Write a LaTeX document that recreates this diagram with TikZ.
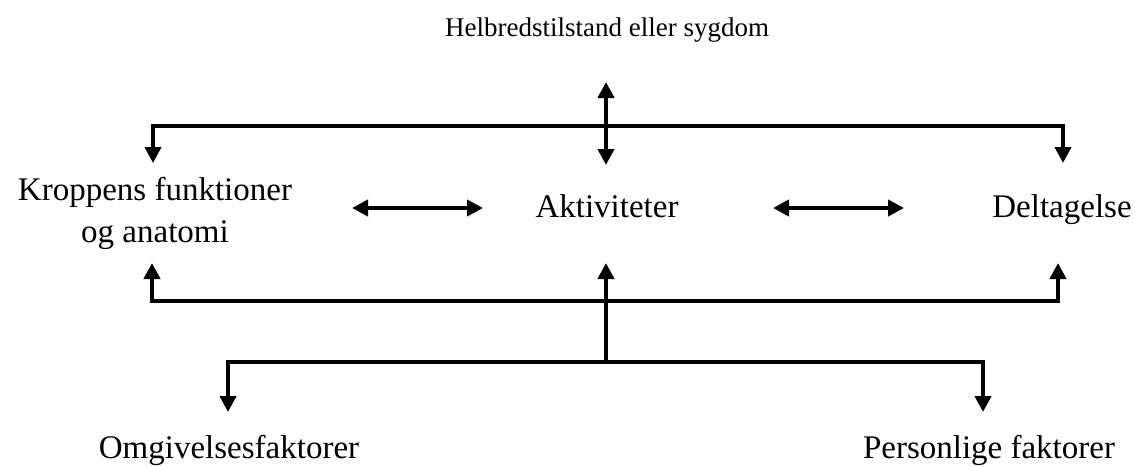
\documentclass[tikz,border=0pt]{standalone}
\usepackage{fontspec}
\setmainfont{Liberation Serif}
\usetikzlibrary{arrows.meta}

\begin{document}
\begin{tikzpicture}
      [ x = 1pt
      , y = -1pt
      , term/.style =
        { inner sep=0pt, font=\fontsize{33}{42}\selectfont, anchor=base, align=center }
      , small/.style =
        { inner sep=0pt, font=\fontsize{27}{30}\selectfont, anchor=base }
      , edge/.style =
        { line width=4pt, >={Triangle[width=16pt,length=16pt]} }
      ]
      \useasboundingbox (0,0) rectangle (1135,466);
      \node [small] (helbred) at (607, 36) {Helbredstilstand eller sygdom};
      \node [term] (krop) at (155, 242) {Kroppens funktioner\\og anatomi};
      \node [term] (aktiv) at (607, 217) {Aktiviteter};
      \node [term] (deltag) at (1062, 217) {Deltagelse};
      \node [term] (omgiv) at (229, 458) {Omgivelsesfaktorer};
      \node [term] (person) at (989, 458) {Personlige faktorer};
      \coordinate (hTop) at (606, 82);
      \coordinate (hBot) at (606, 165);
      \coordinate (kropIn) at (153, 163);
      \coordinate (kropTop) at (153, 126);
      \coordinate (deltagTop) at (1063, 126);
      \coordinate (deltagIn) at (1063, 163);
      \coordinate (kropOut) at (152, 263);
      \coordinate (kropLow) at (152, 301);
      \coordinate (deltagLow) at (1058, 301);
      \coordinate (deltagOut) at (1058, 263);
      \coordinate (aktivOut) at (606, 263);
      \coordinate (fork) at (606, 362);
      \coordinate (omgivTop) at (228, 362);
      \coordinate (omgivIn) at (228, 412);
      \coordinate (personTop) at (983, 362);
      \coordinate (personIn) at (983, 412);
      \coordinate (kaL) at (352, 208);
      \coordinate (kaR) at (483, 208);
      \coordinate (adL) at (773, 208);
      \coordinate (adR) at (904, 208);
      \draw [edge,<->] (kropIn) -- (kropTop) -- (deltagTop) -- (deltagIn);
      \draw [edge,<->] (hTop) -- (hBot);
      \draw [edge,<->] (kaL) -- (kaR);
      \draw [edge,<->] (adL) -- (adR);
      \draw [edge,<->] (kropOut) -- (kropLow) -- (deltagLow) -- (deltagOut);
      \draw [edge,->] (fork) -- (aktivOut);
      \draw [edge,<->] (omgivIn) -- (omgivTop) -- (personTop) -- (personIn);
    \end{tikzpicture}
\end{document}
